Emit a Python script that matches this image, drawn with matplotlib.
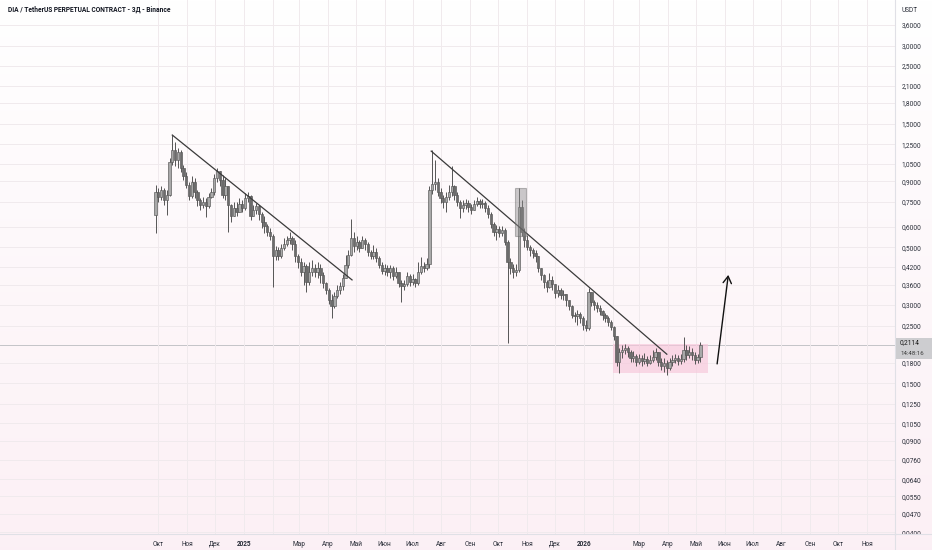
import matplotlib

matplotlib.use("Agg")
from datetime import date, timedelta

import matplotlib.dates as mdates
import matplotlib.pyplot as plt
import numpy as np
from matplotlib.lines import Line2D
from matplotlib.patches import Rectangle
from matplotlib.ticker import NullLocator
from matplotlib.transforms import Bbox, TransformedBbox

plt.rcParams["font.family"] = ["Roboto", "DejaVu Sans"]

TITLE = "DIA / TetherUS PERPETUAL CONTRACT - 3Д - Binance"
FIRST_BAR = date(2024, 9, 28)   # 3-day candles
BAR_DAYS = 3
FIRST_OPEN = 0.667
LAST_PRICE = 0.2114
LAST_TIME = "14:48:16"

closes = [
    0.818, 0.783, 0.833, 0.762, 0.797, 1.067, 1.187, 1.086, 1.166, 1.012,
    0.943, 0.870, 0.790, 0.894, 0.818, 0.762, 0.729, 0.749, 0.723, 0.783,
    0.818, 0.926, 0.985, 0.910, 0.797, 0.862, 0.729, 0.661, 0.710, 0.685,
    0.736, 0.710, 0.776, 0.790, 0.661, 0.697, 0.723, 0.673, 0.627, 0.605,
    0.574, 0.554, 0.464, 0.489, 0.464, 0.498, 0.516, 0.534, 0.544, 0.516,
    0.464, 0.439, 0.402, 0.424, 0.369, 0.402, 0.417, 0.402, 0.417, 0.392,
    0.365, 0.343, 0.314, 0.297, 0.325, 0.343, 0.355, 0.382, 0.428, 0.468,
    0.544, 0.507, 0.525, 0.498, 0.534, 0.516, 0.480, 0.464, 0.480, 0.456,
    0.428, 0.405, 0.417, 0.402, 0.417, 0.389, 0.402, 0.365, 0.355, 0.362,
    0.389, 0.369, 0.379, 0.365, 0.402, 0.424, 0.417, 0.432, 0.833, 0.878,
    0.894, 0.818, 0.776, 0.749, 0.783, 0.818, 0.862, 0.797, 0.749, 0.710,
    0.729, 0.742, 0.716, 0.697, 0.736, 0.755, 0.736, 0.742, 0.710, 0.673,
    0.616, 0.574, 0.589, 0.569, 0.584, 0.525, 0.439, 0.417, 0.402, 0.409,
    0.716, 0.574, 0.534, 0.503, 0.489, 0.476, 0.464, 0.417, 0.392, 0.369,
    0.352, 0.375, 0.362, 0.334, 0.343, 0.328, 0.331, 0.314, 0.297, 0.275,
    0.273, 0.277, 0.268, 0.251, 0.245, 0.337, 0.308, 0.300, 0.292, 0.284,
    0.275, 0.268, 0.258, 0.247, 0.228, 0.181, 0.198, 0.201, 0.205, 0.198,
    0.187, 0.191, 0.181, 0.187, 0.183, 0.186, 0.180, 0.184, 0.189, 0.198,
    0.181, 0.175, 0.180, 0.172, 0.181, 0.184, 0.187, 0.183, 0.186, 0.201,
    0.1926, 0.198, 0.1926, 0.184, 0.189, 0.2114,
]
highs = [
    0.870, 0.847, 0.862, 0.847, 0.833, 1.106, 1.356, 1.274, 1.209, 1.187,
    1.039, 0.977, 0.894, 0.943, 0.926, 0.833, 0.776, 0.783, 0.776, 0.811,
    0.847, 0.959, 1.012, 0.977, 0.951, 0.926, 0.862, 0.736, 0.749, 0.749,
    0.776, 0.762, 0.811, 0.818, 0.797, 0.729, 0.742, 0.729, 0.685, 0.661,
    0.616, 0.594, 0.564, 0.507, 0.503, 0.516, 0.544, 0.554, 0.574, 0.554,
    0.534, 0.472, 0.456, 0.439, 0.432, 0.439, 0.447, 0.432, 0.439, 0.432,
    0.402, 0.369, 0.349, 0.331, 0.337, 0.358, 0.369, 0.395, 0.468, 0.489,
    0.644, 0.574, 0.554, 0.534, 0.554, 0.544, 0.525, 0.489, 0.511, 0.498,
    0.464, 0.439, 0.432, 0.428, 0.428, 0.424, 0.420, 0.402, 0.375, 0.375,
    0.402, 0.395, 0.395, 0.382, 0.439, 0.460, 0.439, 0.456, 0.862, 1.187,
    1.086, 0.926, 0.847, 0.797, 0.818, 0.870, 1.030, 0.870, 0.818, 0.762,
    0.762, 0.769, 0.762, 0.736, 0.762, 0.783, 0.769, 0.769, 0.755, 0.729,
    0.685, 0.627, 0.610, 0.605, 0.605, 0.594, 0.534, 0.456, 0.432, 0.432,
    0.847, 0.762, 0.594, 0.559, 0.511, 0.498, 0.489, 0.460, 0.417, 0.395,
    0.375, 0.399, 0.389, 0.362, 0.358, 0.349, 0.343, 0.331, 0.314, 0.300,
    0.282, 0.287, 0.282, 0.273, 0.263, 0.349, 0.337, 0.314, 0.308, 0.300,
    0.287, 0.280, 0.273, 0.263, 0.249, 0.228, 0.205, 0.2105, 0.212, 0.209,
    0.201, 0.1995, 0.194, 0.194, 0.1926, 0.196, 0.191, 0.1926, 0.201, 0.205,
    0.198, 0.187, 0.187, 0.184, 0.187, 0.1926, 0.194, 0.1926, 0.194, 0.226,
    0.2105, 0.209, 0.205, 0.198, 0.194, 0.217,
]
lows = [
    0.569, 0.749, 0.762, 0.729, 0.667, 0.790, 1.039, 1.030, 1.012, 0.977,
    0.910, 0.847, 0.762, 0.776, 0.776, 0.723, 0.697, 0.710, 0.655, 0.710,
    0.776, 0.797, 0.894, 0.862, 0.776, 0.762, 0.574, 0.627, 0.673, 0.661,
    0.685, 0.685, 0.697, 0.749, 0.638, 0.661, 0.673, 0.638, 0.594, 0.569,
    0.554, 0.534, 0.352, 0.447, 0.447, 0.456, 0.489, 0.507, 0.516, 0.489,
    0.439, 0.417, 0.389, 0.358, 0.337, 0.358, 0.389, 0.386, 0.382, 0.365,
    0.349, 0.331, 0.303, 0.268, 0.292, 0.320, 0.331, 0.343, 0.382, 0.417,
    0.464, 0.480, 0.489, 0.480, 0.498, 0.489, 0.464, 0.451, 0.451, 0.439,
    0.417, 0.395, 0.392, 0.389, 0.382, 0.375, 0.382, 0.352, 0.308, 0.343,
    0.355, 0.355, 0.358, 0.352, 0.358, 0.395, 0.402, 0.409, 0.417, 0.804,
    0.833, 0.790, 0.742, 0.710, 0.685, 0.762, 0.790, 0.762, 0.723, 0.650,
    0.685, 0.703, 0.685, 0.673, 0.697, 0.723, 0.710, 0.710, 0.685, 0.650,
    0.594, 0.554, 0.534, 0.549, 0.554, 0.511, 0.214, 0.395, 0.382, 0.389,
    0.402, 0.554, 0.503, 0.489, 0.464, 0.456, 0.439, 0.402, 0.375, 0.349,
    0.337, 0.349, 0.343, 0.320, 0.323, 0.317, 0.314, 0.297, 0.287, 0.268,
    0.258, 0.251, 0.256, 0.2405, 0.238, 0.2405, 0.297, 0.287, 0.282, 0.275,
    0.263, 0.258, 0.249, 0.2405, 0.220, 0.175, 0.164, 0.187, 0.194, 0.189,
    0.181, 0.181, 0.175, 0.178, 0.175, 0.178, 0.174, 0.178, 0.181, 0.184,
    0.175, 0.169, 0.166, 0.161, 0.169, 0.175, 0.180, 0.176, 0.178, 0.181,
    0.184, 0.187, 0.184, 0.178, 0.180, 0.181,
]

price_ticks = [3.6, 3.0, 2.5, 2.1, 1.8, 1.5, 1.25, 1.05, 0.9, 0.75, 0.6, 0.5,
               0.42, 0.36, 0.30, 0.25, 0.18, 0.15, 0.125, 0.105, 0.09, 0.076,
               0.064, 0.055, 0.047, 0.04]
month_starts = [date(2024, 10, 1), date(2024, 11, 1), date(2024, 12, 1),
                date(2025, 1, 1), date(2025, 2, 1), date(2025, 3, 1),
                date(2025, 4, 1), date(2025, 5, 1), date(2025, 6, 1),
                date(2025, 7, 1), date(2025, 8, 1), date(2025, 9, 1),
                date(2025, 10, 1), date(2025, 11, 1), date(2025, 12, 1),
                date(2026, 1, 1), date(2026, 2, 1), date(2026, 3, 1),
                date(2026, 4, 1), date(2026, 5, 1), date(2026, 6, 1),
                date(2026, 7, 1), date(2026, 8, 1), date(2026, 9, 1),
                date(2026, 10, 1), date(2026, 11, 1)]
month_labels = ["Окт", "Ноя", "Дек", "2025", "", "Мар", "Апр", "Май", "Июн",
                "Июл", "Авг", "Сен", "Окт", "Ноя", "Дек", "2026", "", "Мар",
                "Апр", "Май", "Июн", "Июл", "Авг", "Сен", "Окт", "Ноя"]

# drawings on the chart: (date, price) pairs
trend_1 = [(date(2024, 10, 16), 1.356), (date(2025, 4, 27), 0.375)]
trend_2 = [(date(2025, 7, 21), 1.176), (date(2026, 3, 31), 0.194)]
spike_box = (date(2025, 10, 19), date(2025, 10, 31), 0.554, 0.847)
range_box = (date(2026, 2, 1), date(2026, 5, 14), 0.164, 0.212)
target_arrow = [(date(2026, 5, 24), 0.178), (date(2026, 6, 5), 0.392)]

W, H = 932, 550
PLOT_R, PLOT_B = 895, 534
TXT = "#2a2e39"


def fx(px):
    return px / W


def fy(py):
    return 1 - py / H


fig = plt.figure(figsize=(W / 100, H / 100), dpi=100)

# faint white -> pink background like the TradingView theme
bg = fig.add_axes([0, 0, 1, 1], zorder=-5)
grad = np.linspace(0, 1, 256)[:, None]
top = np.array([1.0, 1.0, 1.0])
bot = np.array([0.988, 0.941, 0.961])
img = top + (bot - top) * grad[..., None]
bg.imshow(np.repeat(img, 2, axis=1), extent=[0, 1, 0, 1], aspect="auto",
          origin="upper")
bg.axis("off")

ax = fig.add_axes([0, fy(PLOT_B), fx(PLOT_R), 1 - fy(PLOT_B)])
ax.set_facecolor("none")
ax.set_yscale("log")
ax.set_ylim(0.03935, 4.494)
ax.set_xlim(mdates.date2num(date(2024, 4, 14)), mdates.date2num(date(2026, 12, 1)))

# candles
n = len(closes)
xs = mdates.date2num([FIRST_BAR + timedelta(days=BAR_DAYS * i) for i in range(n)])
opens = np.array([FIRST_OPEN] + closes[:-1])
c = np.array(closes)
hi = np.maximum(np.array(highs), np.maximum(opens, c))
lo = np.minimum(np.array(lows), np.minimum(opens, c))
up = c >= opens
ax.vlines(xs, lo, hi, color="#555555", lw=0.7, zorder=3)
body_lo = np.minimum(opens, c)
body_h = np.maximum(np.abs(c - opens), body_lo * 0.008)
ax.bar(xs, body_h, bottom=body_lo, width=2.5,
       color=np.where(up, "#a9a9a9", "#6c6c6c"), edgecolor="#555555",
       linewidth=0.45, zorder=4)

# drawings
for line in (trend_1, trend_2):
    ax.plot(mdates.date2num([p[0] for p in line]), [p[1] for p in line],
            color="#3a3a3a", lw=0.9, zorder=5)

x0, x1, y0, y1 = spike_box
ax.add_patch(Rectangle((mdates.date2num(x0), y0),
                       mdates.date2num(x1) - mdates.date2num(x0), y1 - y0,
                       facecolor="#8c8c8c", alpha=0.45, edgecolor="#6a6a6a",
                       lw=0.8, zorder=6))
x0, x1, y0, y1 = range_box
ax.add_patch(Rectangle((mdates.date2num(x0), y0),
                       mdates.date2num(x1) - mdates.date2num(x0), y1 - y0,
                       facecolor="#f7c6da", alpha=0.65, edgecolor="none",
                       zorder=2))

(a0, p0), (a1, p1) = target_arrow
ax.annotate("", xy=(mdates.date2num(a1), p1), xytext=(mdates.date2num(a0), p0),
            arrowprops=dict(arrowstyle="->,head_length=0.5,head_width=0.3",
                            color="#111111", lw=1.0, shrinkA=0, shrinkB=0),
            zorder=6)

# last price line
ax.axhline(LAST_PRICE, color="#c4c4c8", lw=0.7, zorder=1)

# axes, ticks, grid
ax.yaxis.tick_right()
ax.set_yticks(price_ticks)
ax.set_yticklabels([f"{v:.4f}".replace(".", ",") for v in price_ticks])
ax.yaxis.set_minor_locator(NullLocator())
ax.tick_params(axis="y", length=0, pad=4.5, labelsize=4.7, labelcolor=TXT)
# price scale labels are cut off where the time scale begins
scale_clip = TransformedBbox(Bbox([[0, fy(PLOT_B)], [1, 1]]), fig.transFigure)
for lab in ax.get_yticklabels():
    lab.set_clip_box(scale_clip)
    lab.set_clip_on(True)

ax.set_xticks(mdates.date2num(month_starts))
ax.set_xticklabels(month_labels)
ax.tick_params(axis="x", length=0, pad=8.5, labelsize=4.7, labelcolor=TXT)
for lab in ax.get_xticklabels():
    lab.set_verticalalignment("baseline")
    if lab.get_text().isdigit():
        lab.set_fontweight("bold")

ax.grid(True, color="#f0eaed", lw=0.7, zorder=0)
for side in ("top", "left"):
    ax.spines[side].set_visible(False)
for side in ("right", "bottom"):
    ax.spines[side].set_color("#e0e0e6")
    ax.spines[side].set_linewidth(0.8)

fig.add_artist(Line2D([fx(PLOT_R), 1], [fy(PLOT_B), fy(PLOT_B)],
                      color="#e0e0e6", lw=0.8))
fig.add_artist(Line2D([fx(PLOT_R), fx(PLOT_R)], [0, fy(PLOT_B)],
                      color="#e0e0e6", lw=0.8))

# price label on the scale
fig.add_artist(Rectangle((fx(896), fy(359)), fx(W) - fx(896), fy(338) - fy(359),
                         facecolor="#cdcdd0", edgecolor="none"))
fig.text(fx(900), fy(342.5), f"{LAST_PRICE:.4f}".replace(".", ","),
         fontsize=4.8, color="#1a1a1a", va="center", ha="left")
fig.text(fx(900), fy(353.5), LAST_TIME, fontsize=4.4, color="#3a3a3a",
         va="center", ha="left")

fig.text(fx(902), fy(10), "USDT", fontsize=4.7, color=TXT, va="center",
         ha="left")
fig.text(fx(8), fy(10), TITLE, fontsize=4.8, fontweight="bold",
         color="#131722", va="center", ha="left")

fig.savefig("out.png", dpi=100)
